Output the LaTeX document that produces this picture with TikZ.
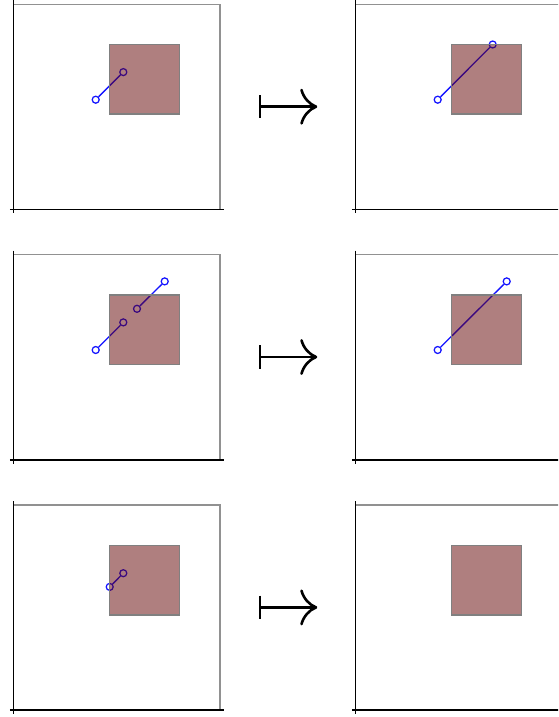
\documentclass[tikz,border=0pt]{standalone}
\definecolor{sqfill}{RGB}{97,0,0}
\definecolor{frgray}{RGB}{145,145,145}
\definecolor{sqedge}{RGB}{128,128,128}
\definecolor{segblue}{RGB}{20,20,255}
\tikzset{
  frameline/.style={draw=frgray, line width=1.5},
  axisline/.style={draw=black, line width=1.6},
  segline/.style={draw=segblue, line width=1.35},
  mkcirc/.style={circle, draw=segblue, fill=white, line width=1.25, minimum size=7, inner sep=0pt},
  sqbox/.style={fill=sqfill, fill opacity=0.5, draw=sqedge, line width=1.5},
  maparrow/.style={draw=black, line width=2.6}
}
\newcommand\panelframe[2]{% x offset, y offset
  \begin{scope}[shift={(#1,#2)}]
    \draw[frameline] (13.3,209.5) -- (13.3,4.3) -- (220,4.3) -- (220,209.5);
    \draw[axisline] (13.3,0.3) -- (13.3,213.3);
    \draw[axisline] (9.8,209.5) -- (224,209.5);
  \end{scope}}
\newcommand\panelsquare[2]{%
  \begin{scope}[shift={(#1,#2)}]
    \draw[sqbox] (109.7,44.7) rectangle (179.3,114.2);
  \end{scope}}
\newcommand\maps[1]{%
  \begin{scope}[shift={(0,#1)}]
    \draw[maparrow] (260,95) -- (260,118.4);
    \draw[maparrow] (260,106.7) -- (315,106.7);
    \draw[maparrow, line cap=round] (301.5,90) .. controls (303.5,97.5) and (309,104) .. (316,106.7);
    \draw[maparrow, line cap=round] (301.5,123.4) .. controls (303.5,115.9) and (309,109.4) .. (316,106.7);
  \end{scope}}
\begin{document}
\begin{tikzpicture}[x=1pt,y=-1pt]
\useasboundingbox (0,0) rectangle (558,717);
\clip (0,0) rectangle (558,717);
\fill[white] (0,0) rectangle (558,717);
% ---------- row 1 ----------
\panelframe{0}{0}
\panelframe{342}{0}
\node[mkcirc] (a1) at (95.7,99.7) {};
\node[mkcirc] (b1) at (123.3,72.1) {};
\draw[segline] (a1) -- (b1);
\node[mkcirc] (c1) at (437.7,99.7) {};
\node[mkcirc] (d1) at (492.7,44.5) {};
\draw[segline] (c1) -- (d1);
\panelsquare{0}{0}
\panelsquare{342}{0}
\maps{0}
% ---------- row 2 ----------
\panelframe{0}{250.3}
\panelframe{342}{250.3}
\node[mkcirc] (a2) at (95.7,350.0) {};
\node[mkcirc] (b2) at (123.3,322.4) {};
\draw[segline] (a2) -- (b2);
\node[mkcirc] (e2) at (137.0,308.8) {};
\node[mkcirc] (f2) at (164.7,281.4) {};
\draw[segline] (e2) -- (f2);
\node[mkcirc] (c2) at (437.7,350.0) {};
\node[mkcirc] (d2) at (506.7,281.4) {};
\draw[segline] (c2) -- (d2);
\panelsquare{0}{250.3}
\panelsquare{342}{250.3}
\maps{250.3}
% ---------- row 3 ----------
\panelframe{0}{500.7}
\panelframe{342}{500.7}
\node[mkcirc] (a3) at (109.7,586.9) {};
\node[mkcirc] (b3) at (123.3,573.2) {};
\draw[segline] (a3) -- (b3);
\panelsquare{0}{500.7}
\panelsquare{342}{500.7}
\maps{500.7}
\end{tikzpicture}
\end{document}
